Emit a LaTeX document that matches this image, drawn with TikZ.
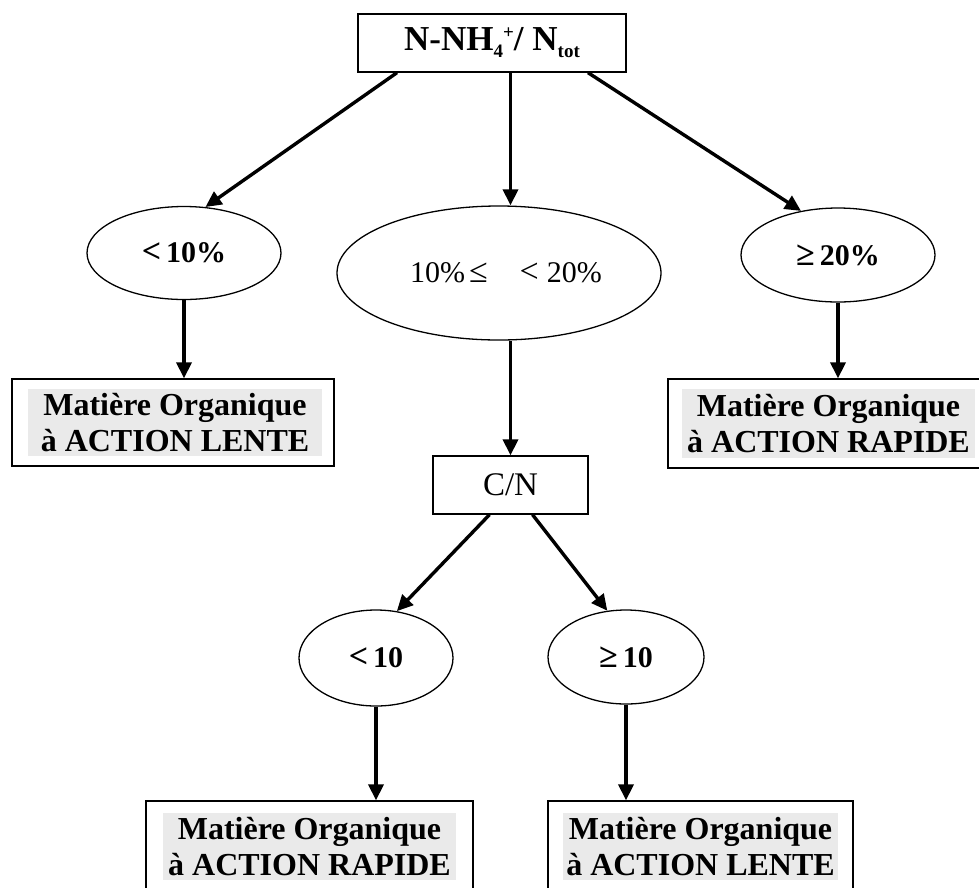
\documentclass[tikz,border=0pt]{standalone}
\usepackage{fontspec}
\setmainfont{Liberation Serif}
\usetikzlibrary{arrows.meta,calc,shapes.geometric}
\definecolor{graybg}{HTML}{EAEAEA}
\newcommand{\bigsym}[1]{{\fontsize{34}{34}\selectfont #1}}
\begin{document}
\begin{tikzpicture}[x=1pt,y=-1pt,
  box/.style={draw, line width=1.3pt, inner sep=0pt},
  oval/.style={draw, ellipse, line width=1.3pt, inner sep=0pt},
  shade/.style={fill=graybg, inner sep=0pt, align=center, font=\fontsize{32}{36}\selectfont\bfseries},
  arr/.style={line width=3.4pt, -{Triangle[length=16pt,width=15pt]}},
  lbl/.style={font=\fontsize{30}{32}\selectfont\bfseries}]
\useasboundingbox (0,0) rectangle (979,887);

% top box
\node[box, minimum width=268pt, minimum height=58pt, font=\fontsize{35}{38}\selectfont\bfseries] (top) at (492,43)
  {N-NH\raisebox{-7pt}{\fontsize{19}{19}\selectfont 4}\raisebox{12pt}{\fontsize{19}{19}\selectfont +}/ N\raisebox{-7pt}{\fontsize{19}{19}\selectfont tot}};

% first-level ellipses
\node[oval, lbl, minimum width=194pt, minimum height=93pt] (l) at (184,253) {\bigsym{<}\,10\%};
\node[oval, minimum width=324pt, minimum height=134pt, font=\fontsize{30}{32}\selectfont] (m) at (499,273)
  {\hspace*{14pt}10\%\hspace{4pt}\bigsym{≤}\hspace{32pt}\bigsym{<}\hspace{8pt}20\%};
\node[oval, lbl, minimum width=194pt, minimum height=94pt] (r) at (838,255) {\bigsym{≥}\,20\%};

% C/N box
\node[box, minimum width=155pt, minimum height=58pt, font=\fontsize{33}{36}\selectfont] (cn) at (510.5,485) {C/N};

% second-level ellipses
\node[oval, lbl, minimum width=154pt, minimum height=96pt] (a) at (376,658) {\bigsym{<}\,10};
\node[oval, lbl, minimum width=156pt, minimum height=94pt] (b) at (626,657) {\bigsym{≥}\,10};

% result boxes (outer frames)
\node[box, minimum width=322pt, minimum height=87pt] (lb) at (173,422.5) {};
\node[box, minimum width=332pt, minimum height=89pt] (rb) at (834,423.5) {};
\node[box, minimum width=327pt, minimum height=94pt] (blb) at (309.5,848) {};
\node[box, minimum width=305pt, minimum height=94pt] (brb) at (700.5,848) {};

% shaded labels
\node[shade, minimum width=294pt, minimum height=67pt] (lg) at (175,422.5) {Matière Organique\\à ACTION LENTE};
\node[shade, minimum width=293pt, minimum height=69pt] (rg) at (828.5,423.5) {Matière Organique\\à ACTION RAPIDE};
\node[shade, minimum width=293pt, minimum height=67pt] (blg) at (309.5,846.5) {Matière Organique\\à ACTION RAPIDE};
\node[shade, minimum width=275pt, minimum height=67pt] (brg) at (700.5,846.5) {Matière Organique\\à ACTION LENTE};

% connectors
\draw[arr] ($(top.south)+(-95,0)$) -- (l.65);
\draw[arr] (top.south -| cn) -- (m.north -| cn);
\draw[arr] ($(top.south)+(96,0)$) -- (r.130);
\draw[arr] (l.south) -- (l.south |- lb.north);
\draw[arr] (r.south) -- (r.south |- rb.north);
\draw[arr] (m.south -| cn) -- (cn.north);
\draw[arr] ($(cn.south)+(-21,0)$) -- (a.66);
\draw[arr] ($(cn.south)+(22,0)$) -- (b.112);
\draw[arr] (a.south) -- (a.south |- blb.north);
\draw[arr] (b.south) -- (b.south |- brb.north);
\end{tikzpicture}
\end{document}
